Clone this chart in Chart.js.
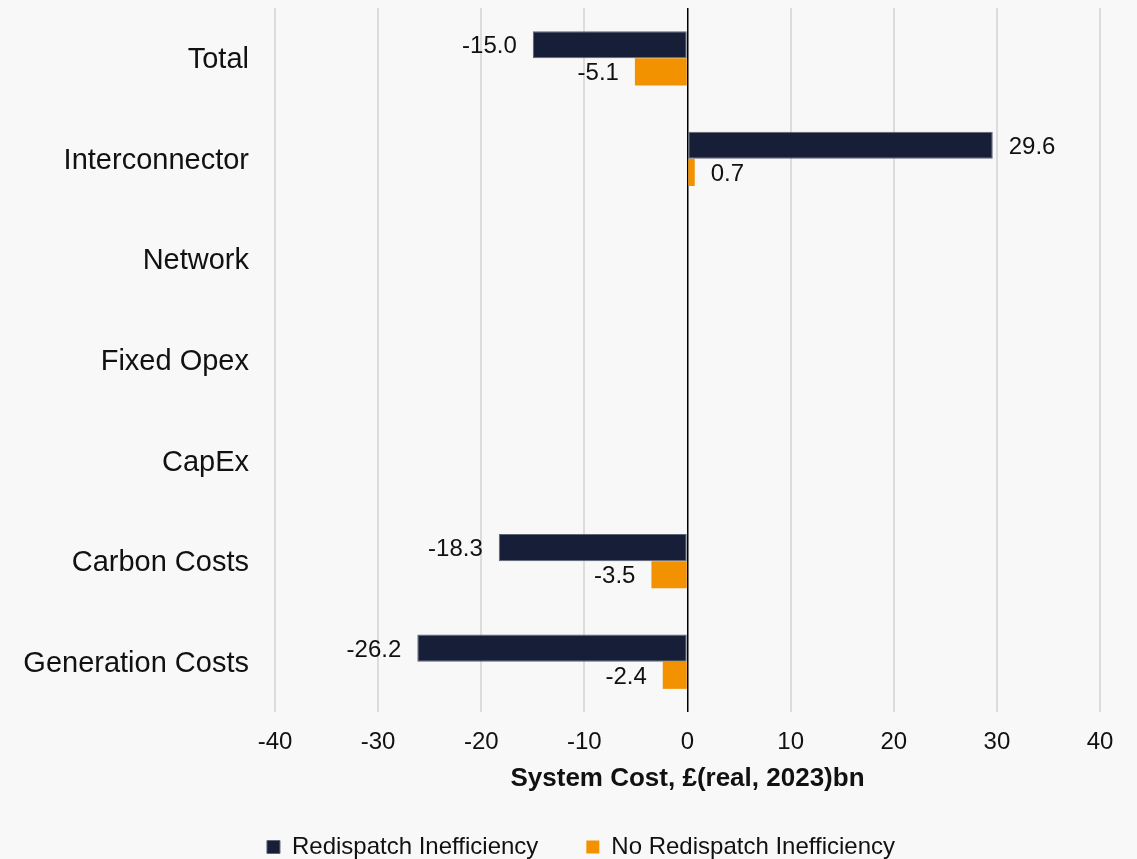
<!DOCTYPE html>
<html>
<head>
<meta charset="utf-8">
<script src="https://cdn.jsdelivr.net/npm/chart.js@4.4.1/dist/chart.umd.min.js"></script>
<style>
  html, body { margin: 0; padding: 0; background: #f8f8f8; }
  #wrap { width: 1137px; height: 859px; position: relative; }
</style>
</head>
<body>
<div id="wrap"><canvas id="c" width="1137" height="859"></canvas></div>
<script>
const categories = ['Total', 'Interconnector', 'Network', 'Fixed Opex', 'CapEx', 'Carbon Costs', 'Generation Costs'];
const redispatch = [-15.0, 29.6, 0, 0, 0, -18.3, -26.2];
const noRedispatch = [-5.1, 0.7, 0, 0, 0, -3.5, -2.4];
const xTicks = [-40, -30, -20, -10, 0, 10, 20, 30, 40];

const FAMILY = '"Liberation Sans", Arial, sans-serif';

// Value labels placed just beyond the end of each non-zero bar
const valueLabels = {
  id: 'valueLabels',
  afterDatasetsDraw(chart) {
    const ctx = chart.ctx;
    ctx.save();
    ctx.font = '24px ' + FAMILY;
    ctx.fillStyle = '#111';
    ctx.textBaseline = 'middle';
    chart.data.datasets.forEach((ds, di) => {
      const meta = chart.getDatasetMeta(di);
      meta.data.forEach((el, i) => {
        const v = ds.data[i];
        if (!v) return;
        const txt = v.toFixed(1);
        if (v < 0) {
          ctx.textAlign = 'right';
          ctx.fillText(txt, el.x - 16, el.y + 2);
        } else {
          ctx.textAlign = 'left';
          ctx.fillText(txt, el.x + 16, el.y + 2);
        }
      });
    });
    ctx.restore();
  }
};

// Nudge the legend block so it sits centred under the plot
const legendShift = {
  id: 'legendShift',
  afterLayout(chart) {
    if (chart.legend) {
      chart.legend.left += 62;
    }
  }
};

function draw() {
  new Chart(document.getElementById('c'), {
    type: 'bar',
    data: {
      labels: categories,
      datasets: [
        {
          label: 'Redispatch Inefficiency',
          data: redispatch,
          backgroundColor: '#161f37',
          borderColor: '#5d6475',
          borderWidth: 1,
          borderSkipped: false
        },
        {
          label: 'No Redispatch Inefficiency',
          data: noRedispatch,
          backgroundColor: '#f39200',
          borderWidth: 0
        }
      ]
    },
    options: {
      indexAxis: 'y',
      responsive: false,
      animation: false,
      categoryPercentage: 0.54,
      barPercentage: 1,
      layout: { padding: { top: 8, right: 37, left: 0, bottom: -10 } },
      scales: {
        x: {
          min: xTicks[0],
          max: xTicks[xTicks.length - 1],
          afterBuildTicks(scale) { scale.ticks = xTicks.map(v => ({ value: v })); },
          grid: {
            drawTicks: false,
            lineWidth: (c) => (c.tick && c.tick.value === 0 ? 1.5 : 2),
            color: (c) => (c.tick && c.tick.value === 0 ? '#000000' : '#dcdcdc')
          },
          border: { display: false },
          ticks: {
            padding: 16,
            color: '#111',
            font: { family: FAMILY, size: 24 },
            callback: (v) => String(v)
          },
          title: {
            display: true,
            text: 'System Cost, £(real, 2023)bn',
            color: '#111',
            font: { family: FAMILY, size: 26, weight: 'bold', lineHeight: 1 },
            padding: { top: 0, bottom: -5 }
          },
          afterFit(scale) {
            scale.height = 75;
            scale.paddingLeft = 0;
            scale.paddingRight = 0;
          }
        },
        y: {
          grid: { display: false, drawTicks: false },
          border: { display: false },
          ticks: {
            padding: 26,
            labelOffset: 2,
            color: '#111',
            font: { family: FAMILY, size: 29 }
          },
          afterFit(scale) {
            scale.width = 275;
            scale.paddingTop = 0;
            scale.paddingBottom = 0;
          }
        }
      },
      plugins: {
        legend: {
          position: 'bottom',
          labels: {
            boxWidth: 13,
            boxHeight: 13,
            padding: 48,
            color: '#111',
            font: { family: FAMILY, size: 24 }
          }
        },
        tooltip: { enabled: false }
      }
    },
    plugins: [valueLabels, legendShift]
  });
}

Promise.all([
  document.fonts.load('24px "Liberation Sans"'),
  document.fonts.load('29px "Liberation Sans"'),
  document.fonts.load('bold 26px "Liberation Sans"')
]).then(draw, draw);
</script>
</body>
</html>
